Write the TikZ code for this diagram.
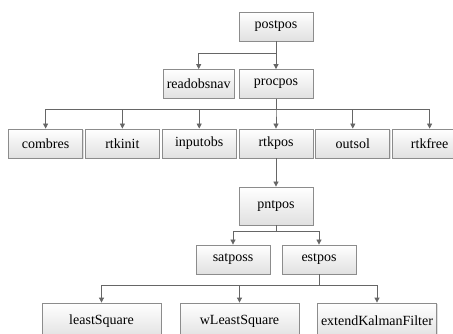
\documentclass[tikz,border=0pt]{standalone}
\usepackage{fontspec}
\setmainfont{Liberation Serif}
\usetikzlibrary{positioning,arrows.meta,shadows}

\begin{document}
\begin{tikzpicture}[
  x=1pt, y=1pt,
  >={Triangle[length=5pt,width=5pt]},
  func/.style={rectangle, draw=black!45, line width=0.8pt, top color=white, bottom color=black!12,
    drop shadow={shadow xshift=1pt, shadow yshift=-1pt, opacity=0.25},
    minimum width=74pt, minimum height=29pt, inner sep=0pt,
    font=\fontsize{14}{16}\selectfont},
  wide/.style={func, minimum width=119pt, minimum height=36pt},
  link/.style={draw=black!60, line width=0.8pt},
  node distance=2pt
]
\useasboundingbox (0,0) rectangle (453,-334);
\clip (0,0) rectangle (453,-334);

% top levels
\node[func] (postpos) at (276,-26.5) {postpos};
\node[func] (procpos) at (276,-84) {procpos};
\node[func, minimum width=71pt, left=4pt of procpos] (readobsnav) {readobsnav};

% procpos children
\node[func] (rtkpos) at (276,-143.5) {rtkpos};
\node[func, left=of rtkpos] (inputobs) {inputobs};
\node[func, left=of inputobs] (rtkinit) {rtkinit};
\node[func, left=of rtkinit] (combres) {combres};
\node[func, right=of rtkpos] (outsol) {outsol};
\node[func, right=of outsol] (rtkfree) {rtkfree};

% pntpos and below
\node[func, minimum height=38pt] (pntpos) at (276,-206) {pntpos};
\node[func] (satposs) at (233,-259.5) {satposs};
\node[func] (estpos) at (319,-259.5) {estpos};
\node[wide] (leastsq) at (101.5,-321) {leastSquare};
\node[wide] (wleastsq) at (239.5,-321) {wLeastSquare};
\node[wide] (ekf) at (377,-321) {extendKalmanFilter};

% postpos calls
\draw[link,->] (postpos) -- (procpos);
\draw[link,->] (postpos.south) -- ++(0,-12) -| (readobsnav.north);

% procpos calls
\foreach \n in {combres,rtkinit,inputobs,rtkpos,outsol,rtkfree}
  \draw[link,->] (procpos.south) -- ++(0,-11) -| (\n.north);

% rtkpos -> pntpos
\draw[link,->] (rtkpos) -- (pntpos);

% pntpos calls
\foreach \n in {satposs,estpos}
  \draw[link,->] (pntpos.south) -- ++(0,-6) -| (\n.north);

% estpos calls
\foreach \n in {leastsq,wleastsq,ekf}
  \draw[link,->] (estpos.south) -- ++(0,-11) -| (\n.north);

\end{tikzpicture}
\end{document}
